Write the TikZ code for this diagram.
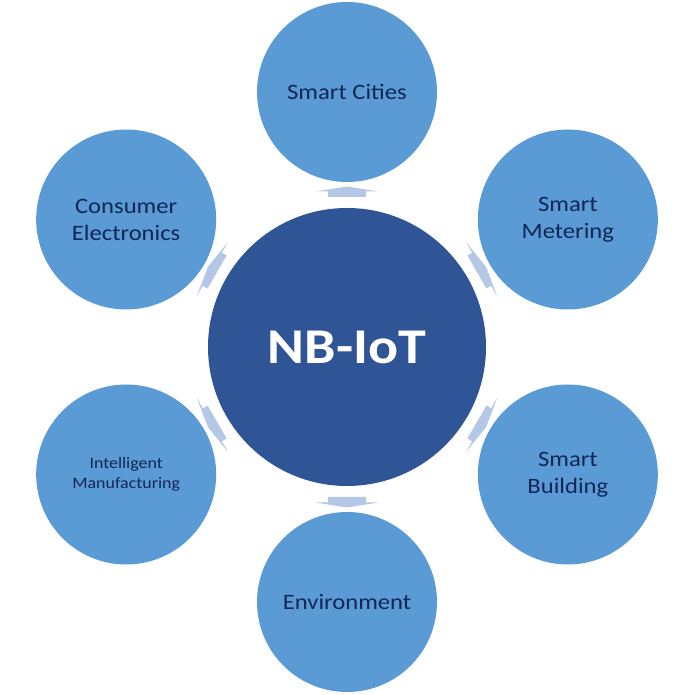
\documentclass[tikz,border=0pt]{standalone}
\usepackage{fontspec}
\usetikzlibrary{calc}
\setmainfont{Carlito}[FakeStretch=1.12]
\definecolor{outerblue}{HTML}{5B9BD5}
\definecolor{centerblue}{HTML}{2F5597}
\definecolor{arrowblue}{HTML}{B4C7E7}
\definecolor{textnavy}{HTML}{112657}
\begin{document}
\begin{tikzpicture}[x=1pt,y=1pt,
  outer/.style={circle,fill=outerblue,minimum size=180pt,inner sep=0pt,
    text=textnavy,align=center,font=\fontsize{22}{27}\selectfont},
  hub/.style={circle,fill=centerblue,minimum size=278pt,inner sep=0pt,
    text=white,font=\fontsize{50}{55}\selectfont\bfseries},
  blockarrow/.style={fill=arrowblue,draw=none}]
\useasboundingbox (0,0) rectangle (695,695);
\node[hub] (hub) at (347,348) {NB-IoT};
\node[outer] (cities) at ($(hub)+(90:255)$) {Smart Cities};
\node[outer] (metering) at ($(hub)+(30:255)$) {Smart\\Metering};
\node[outer] (building) at ($(hub)+(-30:255)$) {Smart\\Building};
\node[outer] (env) at ($(hub)+(-90:255)$) {Environment};
\node[outer,font=\fontsize{16}{20}\selectfont] (manuf) at ($(hub)+(210:255)$) {Intelligent\\Manufacturing};
\node[outer] (consumer) at ($(hub)+(150:255)$) {Consumer\\Electronics};
\foreach \a in {90,30,-30,-90,210,150}{
  \begin{scope}[shift={(hub.center)},rotate=\a]
    \fill[blockarrow] (150,-19) -- (155.5,-19) -- (155.5,-31.5) -- (160.5,0)
      -- (155.5,31.5) -- (155.5,19) -- (150,19) -- cycle;
  \end{scope}
}
\end{tikzpicture}
\end{document}
